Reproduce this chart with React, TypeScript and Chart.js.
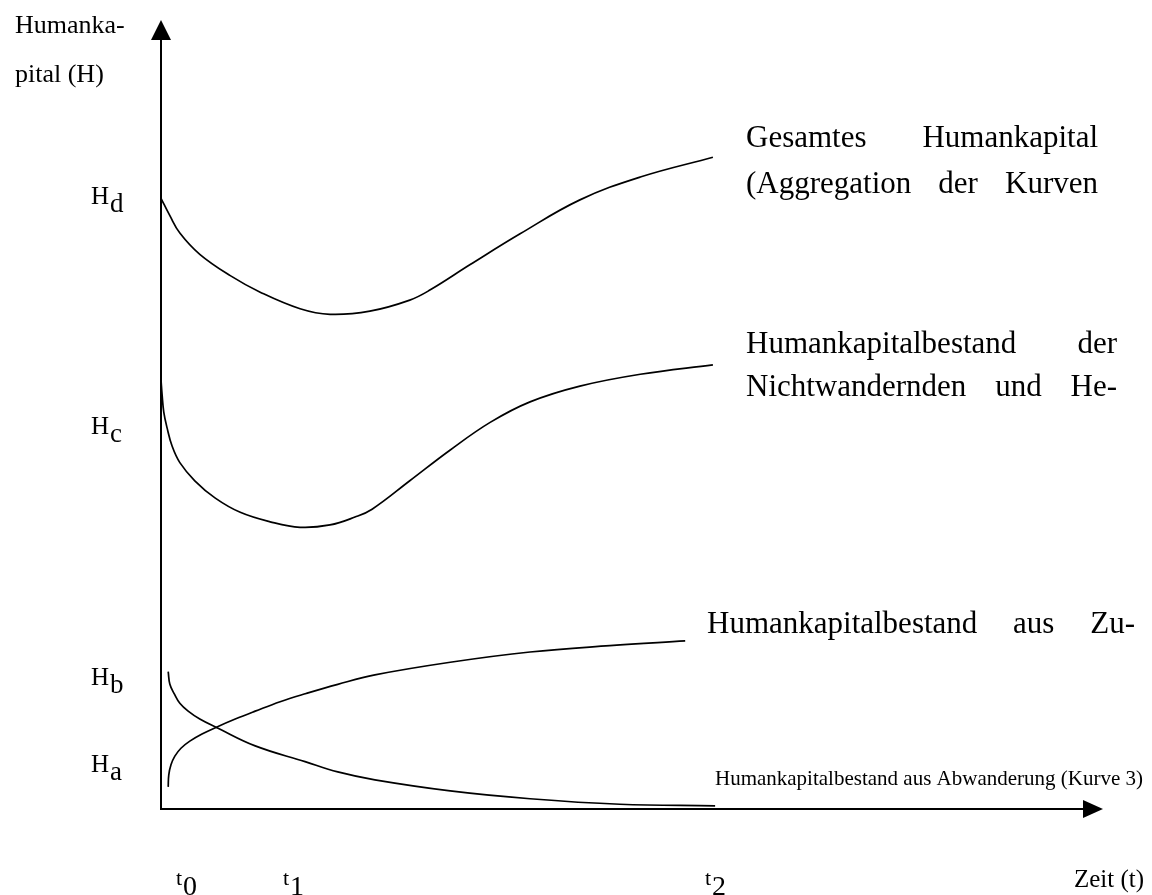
import React, { useEffect, useRef } from "react";
import { Chart, registerables } from "chart.js";

Chart.register(...registerables);

// Time axis in abstract units (t0 = 0, t2 ≈ 10), human capital level in abstract units (0..10)
const curve1X = [0, 0.16, 0.34, 0.7, 1.25, 1.79, 2.51, 3.05, 3.77, 4.49, 4.86, 5.58, 6.48, 7.56, 8.65, 9.96];
const curve1Y = [7.74, 7.52, 7.3, 7.03, 6.76, 6.55, 6.34, 6.27, 6.31, 6.45, 6.58, 6.9, 7.29, 7.72, 8.01, 8.26];

const curve2X = [0, 0.02, 0.05, 0.11, 0.2, 0.34, 0.61, 0.98, 1.43, 1.97, 2.51, 3.05, 3.5, 3.81, 4.49, 5.22, 5.94, 6.66, 7.56, 8.65, 9.96];
const curve2Y = [5.44, 5.25, 5.03, 4.83, 4.6, 4.39, 4.16, 3.94, 3.76, 3.64, 3.57, 3.6, 3.7, 3.8, 4.16, 4.55, 4.9, 5.16, 5.36, 5.51, 5.63];

const curve3X = [0.13, 0.14, 0.18, 0.25, 0.36, 0.52, 0.74, 1.01, 1.34, 1.7, 2.15, 2.6, 3.19, 3.86, 5.22, 6.66, 8.1, 9.46];
const curve3Y = [0.28, 0.43, 0.56, 0.67, 0.77, 0.86, 0.95, 1.04, 1.14, 1.24, 1.36, 1.46, 1.58, 1.7, 1.86, 1.99, 2.07, 2.13];

const curve4X = [0.13, 0.16, 0.24, 0.34, 0.49, 0.7, 1.01, 1.7, 2.6, 3.19, 3.86, 5.22, 6.66, 8.28, 10.0];
const curve4Y = [1.74, 1.58, 1.46, 1.34, 1.24, 1.14, 1.03, 0.8, 0.6, 0.47, 0.37, 0.23, 0.13, 0.06, 0.04];

const yAxisTitle = ["Humanka-", "pital (H)"];
const xAxisTitle = "Zeit (t)";
const levelSubs = ["d", "c", "b", "a"];
const timeSubs = ["0", "1", "2"];
const label1 = ["Gesamtes Humankapital", "(Aggregation der Kurven"];
const label2 = ["Humankapitalbestand der", "Nichtwandernden und He-"];
const label3 = ["Humankapitalbestand aus Zu-"];
const label4 = "Humankapitalbestand aus Abwanderung (Kurve 3)";

const FONT = "'Liberation Serif', 'Times New Roman', serif";

function justify(ctx: CanvasRenderingContext2D, text: string, left: number, right: number, y: number) {
  const words = text.split(" ");
  const widths = words.map((w) => ctx.measureText(w).width);
  const total = widths.reduce((a, b) => a + b, 0);
  const gap = words.length > 1 ? (right - left - total) / (words.length - 1) : 0;
  let x = left;
  words.forEach((w, i) => {
    ctx.fillText(w, x, y);
    x += widths[i] + gap;
  });
}

export default function App() {
  const ref = useRef<HTMLCanvasElement>(null);

  useEffect(() => {
    if (!ref.current) return;
    const mk = (xs: number[], ys: number[]) => ({
      data: xs.map((x, i) => ({ x, y: ys[i] })),
      borderColor: "#000",
      borderWidth: 1.7,
      pointRadius: 0,
      tension: 0.4,
      fill: false,
    });

    const deco = {
      id: "deco",
      afterDraw(chart: any) {
        const ctx = chart.ctx as CanvasRenderingContext2D;
        const xs = chart.scales.x;
        const ys = chart.scales.y;
        const { top, right } = chart.chartArea;
        const x0 = xs.getPixelForValue(0);
        const y0 = ys.getPixelForValue(0);
        ctx.save();
        ctx.strokeStyle = "#000";
        ctx.fillStyle = "#000";
        ctx.lineWidth = 2;
        // vertical axis
        ctx.beginPath();
        ctx.moveTo(x0, y0);
        ctx.lineTo(x0, top + 18);
        ctx.stroke();
        ctx.beginPath();
        ctx.moveTo(x0, top);
        ctx.lineTo(x0 - 10, top + 20);
        ctx.lineTo(x0 + 10, top + 20);
        ctx.closePath();
        ctx.fill();
        // horizontal axis
        ctx.beginPath();
        ctx.moveTo(x0 - 1, y0);
        ctx.lineTo(right - 18, y0);
        ctx.stroke();
        ctx.beginPath();
        ctx.moveTo(right, y0);
        ctx.lineTo(right - 20, y0 - 9);
        ctx.lineTo(right - 20, y0 + 9);
        ctx.closePath();
        ctx.fill();

        ctx.textBaseline = "alphabetic";
        ctx.textAlign = "left";
        // y axis title
        ctx.font = `26px ${FONT}`;
        ctx.fillText(yAxisTitle[0], 15, 33);
        ctx.fillText(yAxisTitle[1], 15, 82);

        // level labels H_d, H_c, H_b, H_a
        const levelBase = [204, 434, 685, 772];
        levelSubs.forEach((s, i) => {
          ctx.font = `25px ${FONT}`;
          ctx.fillText("H", 91, levelBase[i]);
          const w = ctx.measureText("H").width;
          ctx.font = `27px ${FONT}`;
          ctx.fillText(s, 91 + w + 1, levelBase[i] + 8);
        });

        // time labels t0, t1, t2
        const timeX = [176, 283, 705];
        timeSubs.forEach((s, i) => {
          ctx.font = `22px ${FONT}`;
          ctx.fillText("t", timeX[i], 885);
          const w = ctx.measureText("t").width;
          ctx.font = `28px ${FONT}`;
          ctx.fillText(s, timeX[i] + w + 1, 895);
        });

        // x axis title
        ctx.font = `25px ${FONT}`;
        ctx.textAlign = "right";
        ctx.fillText(xAxisTitle, 1144, 887);
        ctx.font = `21px ${FONT}`;
        ctx.fillText(label4, 1143, 785);
        ctx.textAlign = "left";

        // curve labels (justified)
        ctx.font = `31px ${FONT}`;
        justify(ctx, label1[0], 746, 1098, 147);
        justify(ctx, label1[1], 746, 1098, 193);
        justify(ctx, label2[0], 746, 1117, 353);
        justify(ctx, label2[1], 746, 1117, 396);
        justify(ctx, label3[0], 707, 1135, 633);
        ctx.restore();
      },
    };

    const chart = new Chart(ref.current, {
      type: "line",
      data: {
        datasets: [mk(curve1X, curve1Y), mk(curve2X, curve2Y), mk(curve3X, curve3Y), mk(curve4X, curve4Y)],
      },
      options: {
        responsive: false,
        animation: false,
        layout: { padding: { left: 161, right: 49, top: 20, bottom: 86 } },
        scales: {
          x: { type: "linear", min: 0, max: 17, display: false },
          y: { type: "linear", min: 0, max: 10, display: false },
        },
        plugins: { legend: { display: false }, tooltip: { enabled: false } },
      },
      plugins: [deco],
    } as any);
    return () => chart.destroy();
  }, []);

  return (
    <div style={{ position: "absolute", left: 0, top: 0, width: 1152, height: 895, background: "#fff" }}>
      <canvas ref={ref} width={1152} height={895} />
    </div>
  );
}
